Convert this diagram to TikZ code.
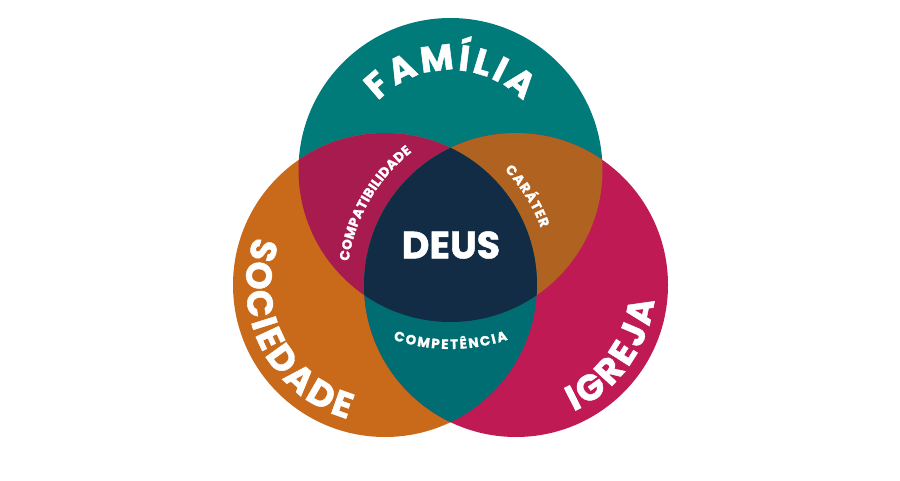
\documentclass[tikz,border=0pt]{standalone}
\usepackage{fontspec}
\newfontfamily\vennfont{Poppins}[BoldFeatures={FakeBold=1.3}]
\usepackage{tikz}
\usetikzlibrary{calc,decorations.text,positioning}
\definecolor{familia}{HTML}{007B7A}
\definecolor{sociedade}{HTML}{C96A1A}
\definecolor{igreja}{HTML}{C01A55}
\definecolor{famsoc}{HTML}{A81B4E}
\definecolor{famigr}{HTML}{B06321}
\definecolor{socigr}{HTML}{006D72}
\definecolor{deus}{HTML}{132C45}
\newcommand\bigfnt{\vennfont\bfseries\fontsize{36}{36}\selectfont}
\newcommand\smallfnt{\vennfont\bfseries\fontsize{13.5}{13.5}\selectfont}
\begin{document}
\begin{tikzpicture}
[x=1pt,y=1pt,
 bigword/.style={decorate,decoration={text effects along path,text={#1},text align=center,
   text effects/.cd,text along path,
   characters={font=\bigfnt,text=white,anchor=base,inner sep=0pt},
   character widths={font=\bigfnt,inner xsep=1.5pt}}},
 smallword/.style 2 args={decorate,decoration={text effects along path,text={#1},text align=center,
   text effects/.cd,text along path,
   characters={font=\smallfnt,text=white,anchor=base,inner sep=0pt},
   character widths={font=\smallfnt,inner xsep=#2}}}]
\useasboundingbox (0,0) rectangle (900,480);
\coordinate (fam) at (450.5,310);
\coordinate (soc) at (385,195);
\coordinate (igr) at (516,195);
%% the three circles
\foreach \c/\col in {fam/familia,soc/sociedade,igr/igreja}
{
	\fill[\col] (\c) circle (152pt);
}
%% overlaps
\begin{scope}
\clip (fam) circle (152pt);
\fill[famsoc] (soc) circle (152pt);
\fill[famigr] (igr) circle (152pt);
\end{scope}
\begin{scope}
\clip (soc) circle (152pt);
\fill[socigr] (igr) circle (152pt);
\clip (fam) circle (152pt);
\fill[deus] (igr) circle (152pt);
\end{scope}
%% words on the arcs
\path[bigword={FAMÍLIA}] (fam) ++(150:100pt) arc[start angle=150,end angle=30,radius=100pt];
\path[bigword={SOCIEDADE}] (soc) ++(138:139pt) arc[start angle=138,end angle=276,radius=139pt];
\path[bigword={IGREJA}] (igr) ++(-97:139pt) arc[start angle=-97,end angle=25,radius=139pt];
\path[smallword={COMPATIBILIDADE}{0.2pt}] (igr) ++(200:169pt) arc[start angle=200,end angle=100,radius=169pt];
\path[smallword={CARÁTER}{0.5pt}] (soc) ++(70:166pt) arc[start angle=70,end angle=-6,radius=166pt];
\path[smallword={COMPETÊNCIA}{0.9pt}] (fam) ++(230:179pt) arc[start angle=230,end angle=310,radius=179pt];
\node[font=\vennfont\bfseries\fontsize{38}{38}\selectfont,text=white,inner sep=0pt] (deus) at (451,235) {DEUS};
\end{tikzpicture}
\end{document}
